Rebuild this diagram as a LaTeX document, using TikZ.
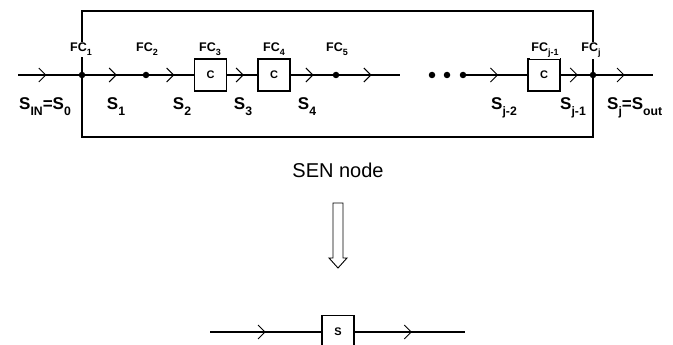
\documentclass[tikz,border=0pt]{standalone}
\usepackage{fontspec}
\setmainfont{Liberation Sans}
\usepackage{graphicx}
\usetikzlibrary{arrows.meta,decorations.markings}
\newcommand\dn[1]{\raisebox{-0.32em}{\scalebox{0.72}{#1}}}
\tikzset{
  wire/.style={line width=1.1pt, postaction={decorate},
    decoration={markings, mark=at position #1 with {\arrow{Straight Barb[length=7pt,width=14pt,line width=1pt]}}}},
  wire/.default=0.55,
  fcdot/.style={circle, fill=black, inner sep=0pt, minimum size=6.5pt},
  cbox/.style={draw, line width=1.1pt, minimum width=32pt, minimum height=32pt, inner sep=0pt, font=\bfseries\fontsize{11}{11}\selectfont},
  fclab/.style={anchor=base, inner sep=1pt, fill=white, font=\bfseries\fontsize{12.5}{12.5}\selectfont},
  slab/.style={anchor=base, inner sep=1pt, font=\bfseries\fontsize{17}{17}\selectfont},
  frame/.style={line width=1.1pt}
}
\begin{document}
\begin{tikzpicture}[x=1pt,y=-1pt]
\useasboundingbox (0,0) rectangle (673,345);
% frame
\coordinate (tl) at (82,11);
\coordinate (br) at (593,137);
\draw[frame] (tl) rectangle (br);
% nodes on the line
\coordinate (in) at (18,75);
\node[fcdot] (fc1) at (82,75) {};
\node[fcdot] (fc2) at (146,75) {};
\node[cbox] (c3) at (210.5,75) {C};
\node[cbox] (c4) at (274,75) {C};
\node[fcdot] (fc5) at (336,75) {};
\coordinate (e5) at (400,75);
\node[fcdot] (d1) at (432,75) {};
\node[fcdot] (d2) at (447,75) {};
\node[fcdot] (d3) at (463,75) {};
\node[cbox] (cj) at (544,75) {C};
\node[fcdot] (fcj) at (593,75) {};
\coordinate (out) at (653,75);
% wires
\draw[wire=0.47] (in) -- (fc1);
\draw[wire] (fc1) -- (fc2);
\draw[wire=0.56] (fc2) -- (c3);
\draw[wire] (c3) -- (c4);
\draw[wire] (c4) -- (fc5);
\draw[wire=0.53] (fc5) -- (e5);
\draw[wire=0.52] (d3) -- (cj);
\draw[wire=0.6] (cj) -- (fcj);
\draw[wire=0.5] (fcj) -- (out);
% FC labels
\node[fclab] (l1) at (81,52) {FC\dn{1}};
\node[fclab] (l2) at (147,52) {FC\dn{2}};
\node[fclab] (l3) at (210,52) {FC\dn{3}};
\node[fclab] (l4) at (274,52) {FC\dn{4}};
\node[fclab] (l5) at (337,52) {FC\dn{5}};
\node[fclab] (lj1) at (545,52) {FC\dn{j-1}};
\node[fclab] (lj) at (591,52) {FC\dn{j}};
% S labels
\node[slab] (s0) at (45,110) {S\dn{IN}=S\dn{0}};
\node[slab] (s1) at (116,110) {S\dn{1}};
\node[slab] (s2) at (182,110) {S\dn{2}};
\node[slab] (s3) at (243,110) {S\dn{3}};
\node[slab] (s4) at (307,110) {S\dn{4}};
\node[slab] (sj2) at (504,110) {S\dn{j-2}};
\node[slab, fill=white] (sj1) at (573,110) {S\dn{j-1}};
\node[slab, anchor=base west] (sj) at (606,110) {S\dn{j}=S\dn{out}};
% caption
\node[font=\fontsize{20}{20}\selectfont] (sen) at (338,170) {SEN node};
% hollow down arrow
\draw[line width=0.9pt] (333,203) -- (343,203) -- (343,258) -- (347,258) -- (338,268) -- (329,258) -- (333,258) -- cycle;
% bottom
\coordinate (bin) at (210,332);
\node[cbox, minimum height=34pt, anchor=north] (sb) at (338,315) {};
\node[font=\bfseries\fontsize{11}{11}\selectfont] (stext) at (338,332) {S};
\coordinate (bout) at (465,332);
\draw[wire=0.5] (bin) -- (sb.west |- bin);
\draw[wire=0.52] (sb.east |- bout) -- (bout);
\end{tikzpicture}
\end{document}
